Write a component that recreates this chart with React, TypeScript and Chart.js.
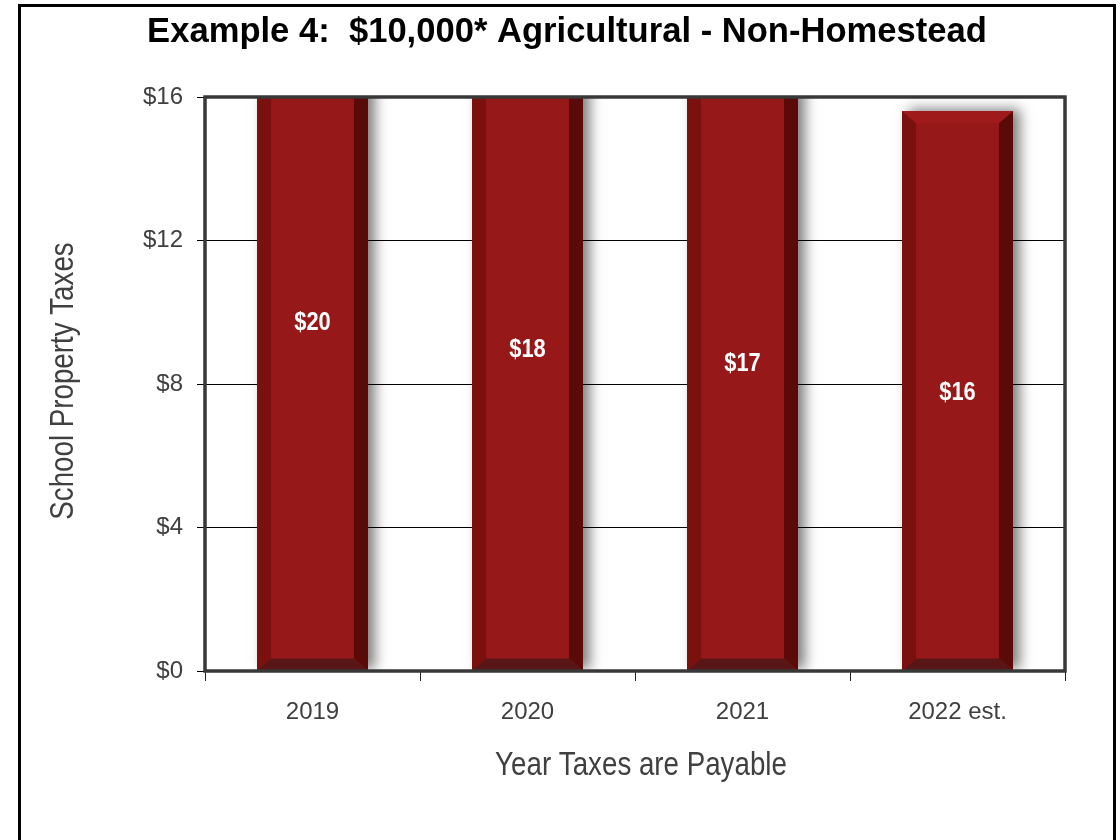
import React, { useEffect, useRef } from "react";
import { Chart, registerables } from "chart.js";

Chart.register(...registerables);

// ---- data ----
const years = ["2019", "2020", "2021", "2022 est."];
const taxes = [19.5, 18.0, 17.2, 15.6];
const yTickValues = [0, 4, 8, 12, 16];
const chartTitle = "Example 4:  $10,000* Agricultural - Non-Homestead";
const xAxisTitle = "Year Taxes are Payable";
const yAxisTitle = "School Property Taxes";

// ---- layout ----
const W = 1120;
const H = 840;
const PLOT = { left: 205, top: 97, right: 1065, bottom: 671 };

const SANS = "'Liberation Sans', Arial, sans-serif";
// horizontal squeeze used for the condensed-looking captions
const CONDENSE = 0.84;

const BAR_FACE = "#971819";
const BEVEL_LEFT = "#7b110f";
const BEVEL_RIGHT = "#5a0a09";
const BEVEL_BOTTOM = "#5a1516";
const BEVEL_TOP = "#9f1a1a";

function barRects(chart: any) {
  const meta = chart.getDatasetMeta(0);
  return meta.data.map((el: any, i: number) => {
    const p = el.getProps(["x", "y", "base", "width"], true);
    return {
      left: p.x - p.width / 2,
      right: p.x + p.width / 2,
      top: Math.min(p.y, p.base),
      bottom: Math.max(p.y, p.base),
      x: p.x,
      value: taxes[i],
    };
  });
}

function condensedText(ctx: any, text: string, x: number, y: number, angle = 0) {
  ctx.save();
  ctx.translate(x, y);
  if (angle) ctx.rotate(angle);
  ctx.scale(CONDENSE, 1);
  ctx.fillText(text, 0, 0);
  ctx.restore();
}

// soft drop shadow behind each bar
const barShadow = {
  id: "barShadow",
  beforeDatasetsDraw(chart: any) {
    const { ctx, chartArea } = chart;
    ctx.save();
    ctx.beginPath();
    ctx.rect(chartArea.left, chartArea.top, chartArea.right - chartArea.left, chartArea.bottom - chartArea.top);
    ctx.clip();
    for (const r of barRects(chart)) {
      ctx.shadowColor = "rgba(0,0,0,0.5)";
      ctx.shadowBlur = 12;
      ctx.shadowOffsetX = 7;
      ctx.shadowOffsetY = -2;
      ctx.fillStyle = BAR_FACE;
      ctx.fillRect(r.left, r.top, r.right - r.left, r.bottom - r.top);
    }
    ctx.restore();
  },
};

// bevelled edges and value labels on each bar
const barBevel = {
  id: "barBevel",
  afterDatasetsDraw(chart: any) {
    const { ctx, chartArea } = chart;
    const b = 14;
    const bb = 12;
    ctx.save();
    ctx.beginPath();
    ctx.rect(chartArea.left, chartArea.top, chartArea.right - chartArea.left, chartArea.bottom - chartArea.top);
    ctx.clip();
    const poly = (pts: number[][], color: string) => {
      ctx.beginPath();
      ctx.moveTo(pts[0][0], pts[0][1]);
      for (let k = 1; k < pts.length; k++) ctx.lineTo(pts[k][0], pts[k][1]);
      ctx.closePath();
      ctx.fillStyle = color;
      ctx.fill();
    };
    for (const r of barRects(chart)) {
      const { left: l, right: rt, top: t, bottom: bo } = r;
      poly([[l, t], [rt, t], [rt - b, t + bb], [l + b, t + bb]], BEVEL_TOP);
      poly([[l, t], [l + b, t + bb], [l + b, bo - bb], [l, bo]], BEVEL_LEFT);
      poly([[rt, t], [rt - b, t + bb], [rt - b, bo - bb], [rt, bo]], BEVEL_RIGHT);
      poly([[l, bo], [l + b, bo - bb], [rt - b, bo - bb], [rt, bo]], BEVEL_BOTTOM);
    }
    ctx.restore();

    ctx.save();
    ctx.fillStyle = "#ffffff";
    ctx.font = `bold 26px ${SANS}`;
    ctx.textAlign = "center";
    ctx.textBaseline = "middle";
    for (const r of barRects(chart)) {
      condensedText(ctx, "$" + Math.round(r.value), r.x, (r.top + r.bottom) / 2 + 2);
    }
    ctx.restore();
  },
};

// plot frame, outer frame, titles
const frameAndTitles = {
  id: "frameAndTitles",
  afterDraw(chart: any) {
    const { ctx, chartArea } = chart;
    ctx.save();
    ctx.strokeStyle = "#383838";
    ctx.lineWidth = 3.5;
    ctx.strokeRect(chartArea.left, chartArea.top, chartArea.right - chartArea.left, chartArea.bottom - chartArea.top);

    ctx.strokeStyle = "#000000";
    ctx.lineWidth = 3;
    ctx.strokeRect(19.5, 5.5, 1095, 900);

    ctx.fillStyle = "#000000";
    ctx.font = `bold 34.6px ${SANS}`;
    ctx.textAlign = "center";
    ctx.textBaseline = "middle";
    ctx.fillText(chartTitle, 567, 32);

    ctx.fillStyle = "#404040";
    ctx.font = `33px ${SANS}`;
    condensedText(ctx, xAxisTitle, 641, 766);
    condensedText(ctx, yAxisTitle, 64, 381, -Math.PI / 2);
    ctx.restore();
  },
};

export default function App() {
  const ref = useRef<HTMLCanvasElement | null>(null);

  useEffect(() => {
    if (!ref.current) return;
    const chart = new Chart(ref.current, {
      type: "bar",
      data: {
        labels: years,
        datasets: [
          {
            data: taxes,
            backgroundColor: BAR_FACE,
            borderWidth: 0,
            barPercentage: 0.516,
            categoryPercentage: 1,
          },
        ],
      },
      options: {
        responsive: false,
        animation: false,
        devicePixelRatio: 1,
        layout: { padding: { left: 0, top: PLOT.top, right: W - PLOT.right, bottom: 0 } },
        plugins: {
          legend: { display: false },
          title: { display: false },
          tooltip: { enabled: false },
        },
        scales: {
          x: {
            grid: {
              display: true,
              drawOnChartArea: false,
              drawTicks: true,
              tickLength: 10,
              color: "#222222",
              offset: true,
            },
            border: { display: false },
            ticks: {
              color: "#404040",
              font: { family: SANS, size: 24 },
              padding: 17,
            },
            afterFit: (s: any) => {
              s.height = H - PLOT.bottom;
            },
          },
          y: {
            min: 0,
            max: 16,
            afterBuildTicks: (s: any) => {
              s.ticks = yTickValues.map((v) => ({ value: v }));
            },
            ticks: {
              color: "#404040",
              font: { family: SANS, size: 24 },
              padding: 14,
              callback: (v: any) => "$" + v,
            },
            grid: { color: "#000000", lineWidth: 1, tickLength: 8 },
            border: { display: false },
            afterFit: (s: any) => {
              s.width = PLOT.left;
            },
          },
        },
      },
      plugins: [barShadow, barBevel, frameAndTitles],
    });
    return () => chart.destroy();
  }, []);

  return (
    <div style={{ position: "absolute", left: 0, top: 0, width: W, height: H, background: "#fff" }}>
      <canvas ref={ref} width={W} height={H} style={{ display: "block" }} />
    </div>
  );
}
